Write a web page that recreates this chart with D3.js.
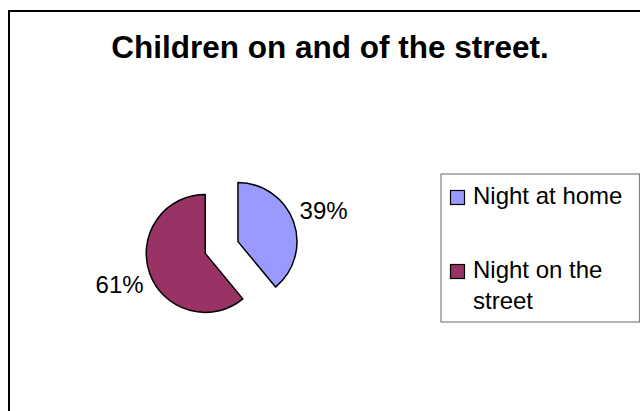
<!DOCTYPE html>
<html>
<head>
<meta charset="utf-8">
<script src="https://cdn.jsdelivr.net/npm/d3@7"></script>
<style>
html,body{margin:0;padding:0;background:#fff;}
svg{display:block;font-family:"Liberation Sans",Arial,sans-serif;}
</style>
</head>
<body>
<svg id="chart" width="640" height="411"></svg>
<script>
const title = "Children on and of the street.";
const categories = ["Night at home", "Night on the street"];
const legendLines = [["Night at home"], ["Night on the", "street"]];
const values = [39, 61];
const colors = ["#9999FF", "#993366"];

const svg = d3.select("#chart");

// outer frame
svg.append("rect").attr("x", 9).attr("y", 11).attr("width", 700).attr("height", 500)
  .attr("fill", "#fff").attr("stroke", "#000").attr("stroke-width", 2);

svg.append("text").attr("x", 330).attr("y", 58).attr("text-anchor", "middle")
  .attr("font-size", 31.5).attr("font-weight", "bold").attr("fill", "#000").text(title);

const cx = 221.6, cy = 247.5, r = 59, explode = 17.4, labelR = 91;
const pie = d3.pie().sort(null).value(d => d)(values);
const arc = d3.arc().innerRadius(0).outerRadius(r);
const total = d3.sum(values);

const g = svg.append("g").attr("transform", `translate(${cx},${cy})`);
pie.forEach((p, i) => {
  const mid = (p.startAngle + p.endAngle) / 2;
  const dx = Math.sin(mid) * explode, dy = -Math.cos(mid) * explode;
  const sg = g.append("g").attr("transform", `translate(${dx},${dy})`);
  sg.append("path").attr("d", arc(p)).attr("fill", colors[i])
    .attr("stroke", "#000").attr("stroke-width", 1.5).attr("stroke-linejoin", "round");
  const lx = Math.sin(mid) * labelR, ly = -Math.cos(mid) * labelR;
  sg.append("text").attr("x", lx).attr("y", ly + 8.6).attr("text-anchor", "middle")
    .attr("font-size", 24).attr("fill", "#000")
    .text(Math.round(values[i] / total * 100) + "%");
});

// legend
const lg = svg.append("g");
lg.append("rect").attr("x", 441).attr("y", 174).attr("width", 198.5).attr("height", 148)
  .attr("fill", "#fff").attr("stroke", "#808080").attr("stroke-width", 1.2);
const itemY = [190, 264];
categories.forEach((c, i) => {
  lg.append("rect").attr("x", 450.5).attr("y", itemY[i] + 0.5).attr("width", 14).attr("height", 14)
    .attr("fill", colors[i]).attr("stroke", "#000").attr("stroke-width", 1.2);
  const t = lg.append("text").attr("x", 473).attr("y", itemY[i] + 13.7)
    .attr("font-size", 24).attr("fill", "#000");
  legendLines[i].forEach((line, j) => {
    t.append("tspan").attr("x", 473).attr("dy", j === 0 ? 0 : 30.8).text(line);
  });
});
</script>
</body>
</html>
